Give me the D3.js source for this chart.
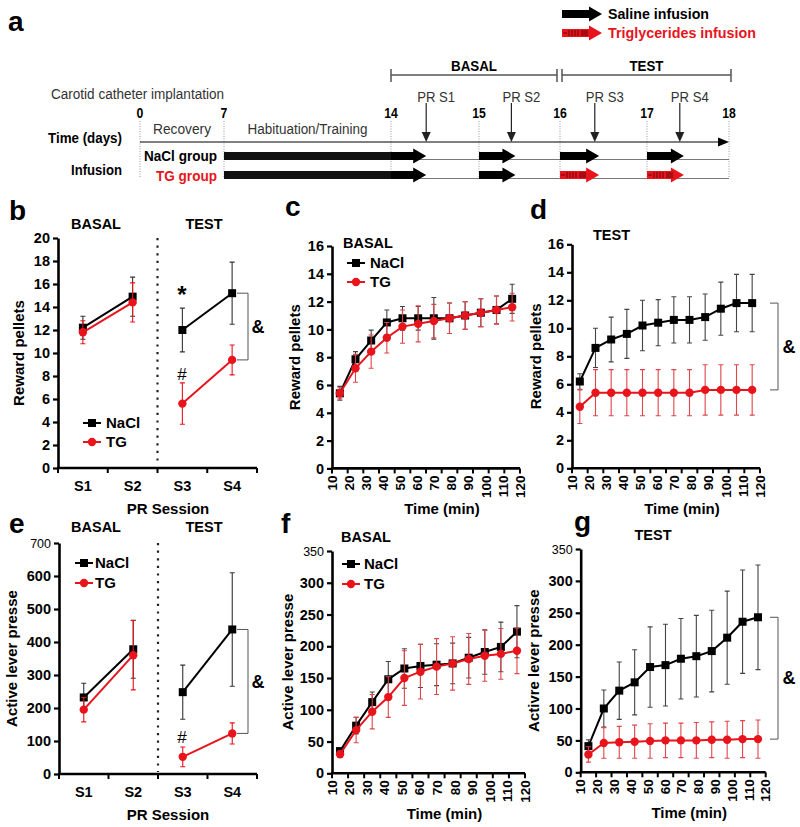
<!DOCTYPE html>
<html>
<head>
<meta charset="utf-8">
<title>Triglyceride infusion and PR sessions</title>
<style>
body { margin: 0; background: #fff; }
svg { display: block; font-family: "Liberation Sans", Arial, sans-serif; }
</style>
</head>
<body>
<svg width="800" height="827"></svg>
<script src="https://d3js.org/d3.v7.min.js"></script>
<script>
// ---- data ----
var sessions = ["S1", "S2", "S3", "S4"];
var pelletsNaCl = [12.2, 14.9, 12.0, 15.2];
var pelletsNaClSem = [1.0, 1.7, 1.9, 2.7];
var pelletsTG = [11.8, 14.4, 5.6, 9.4];
var pelletsTGSem = [1.0, 1.7, 1.8, 1.3];
var pressNaCl = [232, 378, 248, 438];
var pressNaClSem = [43, 88, 82, 172];
var pressTG = [195, 360, 52, 123];
var pressTGSem = [37, 105, 30, 32];

var minutes = [10, 20, 30, 40, 50, 60, 70, 80, 90, 100, 110, 120];
var basalPelletsNaCl = [5.4, 7.85, 9.2, 10.5, 10.8, 10.8, 10.8, 10.8, 11.0, 11.2, 11.4, 12.2];
var basalPelletsNaClSem = [0.5, 0.55, 0.75, 0.9, 0.85, 0.85, 1.5, 1.1, 1.0, 1.0, 1.0, 1.05];
var basalPelletsTG = [5.4, 7.2, 8.4, 9.4, 10.2, 10.4, 10.6, 10.8, 11.0, 11.2, 11.4, 11.6];
var basalPelletsTGSem = [0.4, 1.0, 1.2, 1.1, 1.2, 1.3, 1.2, 1.1, 1.0, 1.0, 1.0, 1.0];
var testPelletsNaCl = [6.2, 8.6, 9.2, 9.6, 10.2, 10.4, 10.6, 10.6, 10.8, 11.4, 11.8, 11.8];
var testPelletsNaClSem = [0.55, 1.4, 1.6, 1.75, 1.8, 1.65, 1.65, 1.65, 1.65, 1.9, 2.05, 2.05];
var testPelletsTG = [4.4, 5.4, 5.4, 5.4, 5.4, 5.4, 5.4, 5.4, 5.6, 5.6, 5.6, 5.6];
var testPelletsTGSem = [1.2, 1.65, 1.65, 1.65, 1.65, 1.65, 1.65, 1.65, 1.8, 1.8, 1.8, 1.8];
var basalPressNaCl = [35, 75, 112, 148, 165, 169, 171, 173, 182, 191, 199, 223];
var basalPressNaClSem = [4, 13, 16, 28, 31, 34, 33, 32, 32, 35, 39, 41];
var basalPressTG = [30, 68, 97, 120, 150, 160, 168, 173, 180, 185, 188, 193];
var basalPressTGSem = [5, 20, 27, 32, 43, 43, 44, 42, 40, 40, 40, 36];
var testPressNaCl = [41, 100, 128, 141, 165, 168, 178, 182, 190, 211, 236, 243];
var testPressNaClSem = [10, 29, 45, 51, 63, 64, 63, 64, 64, 73, 81, 82];
var testPressTG = [28, 46, 47, 48, 49, 50, 50, 50, 51, 51, 52, 52];
var testPressTGSem = [12, 24, 25, 26, 27, 27, 27, 28, 28, 29, 29, 30];

// protocol timeline
var timelineDays = [0, 7, 14, 15, 16, 17, 18];
var periods = ["Recovery", "Habituation/Training"];
var periodStart = [0, 7];
var periodEnd = [7, 14];
var prLabels = ["PR S1", "PR S2", "PR S3", "PR S4"];
var prDays = [14.4, 15.4, 16.4, 17.4];
var infusionStart = [14, 15, 16, 17];
var infusionEnd = [14.4, 15.45, 16.45, 17.45];
var naclInfusion = ["saline", "saline", "saline", "saline"];
var tgInfusion = ["saline", "saline", "tg", "tg"];

var RED = "#e8141c";
var svg = d3.select("svg");
svg.append("rect").attr("width", 800).attr("height", 827).attr("fill", "#fff");

function txt(g, x, y, s, size, weight, anchor, color) {
  return g.append("text").attr("x", x).attr("y", y).attr("dy", "0.35em")
    .attr("font-size", size).attr("font-weight", weight || "normal")
    .attr("text-anchor", anchor || "start").attr("fill", color || "#000").text(s);
}
// the protocol drawing uses a condensed face: squeeze text to its width
function fit(sel, w) {
  return sel.attr("textLength", w).attr("lengthAdjust", "spacingAndGlyphs");
}

// ---- panel a ----
var ga = svg.append("g");
var dayX = d3.scaleLinear().domain(timelineDays).range([140, 224, 391, 479, 560, 647, 729]);

function arrow(g, xa, xb, yc, fill, hatch) {
  var hl = 13, bh = 4, hh = 7.5;
  g.append("path")
    .attr("d", "M" + xa + "," + (yc - bh) + "H" + (xb - hl) + "V" + (yc - hh) + "L" + xb + "," + yc +
      "L" + (xb - hl) + "," + (yc + hh) + "V" + (yc + bh) + "H" + xa + "Z")
    .attr("fill", fill);
  if (hatch) {
    [7, 10, 13, 16].forEach(function (o) {
      g.append("line").attr("x1", xa + o).attr("x2", xa + o).attr("y1", yc - 3).attr("y2", yc + 3)
        .attr("stroke", "#4a0000").attr("stroke-width", 0.8);
    });
    [-2, 0, 2].forEach(function (o) {
      g.append("line").attr("x1", xa + 19).attr("x2", xa + 26).attr("y1", yc + o).attr("y2", yc + o)
        .attr("stroke", "#4a0000").attr("stroke-width", 0.8);
    });
    g.append("line").attr("x1", xa + 1).attr("x2", xa + 5).attr("y1", yc).attr("y2", yc)
      .attr("stroke", "#4a0000").attr("stroke-width", 0.8);
  }
}

txt(ga, 8, 21, "a", 28, "bold");
arrow(ga, 562, 602, 14, "#000", false);
fit(txt(ga, 608, 14, "Saline infusion", 15, "bold"), 101);
arrow(ga, 562, 602, 33, RED, true);
fit(txt(ga, 608, 33, "Triglycerides infusion", 15, "bold", "start", RED), 148);

// brackets
function bracket(g, xa, xb, label, w) {
  g.append("line").attr("x1", xa).attr("x2", xb).attr("y1", 75).attr("y2", 75).attr("stroke", "#555").attr("stroke-width", 1.5);
  [xa, xb].forEach(function (x) {
    g.append("line").attr("x1", x).attr("x2", x).attr("y1", 69).attr("y2", 82).attr("stroke", "#555").attr("stroke-width", 1.5);
  });
  fit(txt(g, (xa + xb) / 2, 66, label, 15, "bold", "middle"), w);
}
bracket(ga, dayX(14), dayX(16) - 3, "BASAL", 46);
bracket(ga, dayX(16) + 2, dayX(18) + 2, "TEST", 34);

fit(txt(ga, 51, 94, "Carotid catheter implantation", 15.5, "normal", "start", "#333"), 173);

// dotted day lines
timelineDays.forEach(function (d) {
  ga.append("line").attr("x1", dayX(d)).attr("x2", dayX(d)).attr("y1", 121).attr("y2", 178)
    .attr("stroke", "#999").attr("stroke-width", 1).attr("stroke-dasharray", "1,1.5");
  fit(txt(ga, dayX(d), 113, d, 15, "bold", "middle"), String(d).length * 6.8);
});

var periodWidths = [58, 120];
periods.forEach(function (p, i) {
  fit(txt(ga, (dayX(periodStart[i]) + dayX(periodEnd[i])) / 2, 129, p, 15.5, "normal", "middle", "#333"), periodWidths[i]);
});

fit(txt(ga, 122, 138, "Time (days)", 15.5, "bold", "end"), 74);
fit(txt(ga, 122, 170, "Infusion", 15.5, "bold", "end"), 51);
fit(txt(ga, 217, 156, "NaCl group", 15.5, "bold", "end"), 73);
fit(txt(ga, 217, 176, "TG group", 15.5, "bold", "end", RED), 61);

// time axis
ga.append("line").attr("x1", dayX(0)).attr("x2", dayX(18) - 4).attr("y1", 142).attr("y2", 142).attr("stroke", "#000").attr("stroke-width", 1);
ga.append("path").attr("d", "M" + dayX(18) + ",142L" + (dayX(18) - 11) + ",137.5V146.5Z").attr("fill", "#000");

// PR sessions
prLabels.forEach(function (p, i) {
  var x = dayX(prDays[i]);
  ga.append("line").attr("x1", x).attr("x2", x).attr("y1", 103).attr("y2", 134).attr("stroke", "#222").attr("stroke-width", 1.2);
  ga.append("path").attr("d", "M" + x + ",142L" + (x - 4.5) + ",132H" + (x + 4.5) + "Z").attr("fill", "#222");
  fit(txt(ga, x + 10, 97, p, 15.5, "normal", "middle", "#333"), 38);
});

// infusion rows
function infusionRow(yc, kinds) {
  ga.append("line").attr("x1", dayX(7)).attr("x2", dayX(18)).attr("y1", yc + 3.5).attr("y2", yc + 3.5)
    .attr("stroke", "#777").attr("stroke-width", 1);
  ga.append("rect").attr("x", dayX(7)).attr("y", yc - 4).attr("width", dayX(14) - dayX(7)).attr("height", 8).attr("fill", "#111");
  kinds.forEach(function (k, i) {
    arrow(ga, dayX(infusionStart[i]), dayX(infusionEnd[i]), yc, k === "tg" ? RED : "#000", k === "tg");
  });
}
infusionRow(156, naclInfusion);
infusionRow(175, tgInfusion);

// ---- shared helpers for plots ----
function yAxis(g, y, x0, ticks, lightTop) {
  var ax = g.append("g").attr("transform", "translate(" + x0 + ",0)")
    .call(d3.axisLeft(y).tickValues(ticks).tickSize(5).tickSizeOuter(0).tickPadding(3));
  ax.select(".domain").attr("stroke-width", 2.6);
  ax.selectAll(".tick line").attr("stroke-width", 2.2);
  ax.selectAll(".tick text").attr("font-size", 14.5).attr("font-weight", "bold")
    .attr("font-family", "'Liberation Sans', Arial, sans-serif").attr("fill", "#000");
  if (lightTop) {
    ax.selectAll(".tick text").filter(function (d) { return d === ticks[ticks.length - 1]; })
      .attr("font-weight", "normal").attr("font-size", 12.5);
  }
}

function yLabel(g, x, cy, s) {
  g.append("text").attr("transform", "translate(" + x + "," + cy + ") rotate(-90)")
    .attr("text-anchor", "middle").attr("font-size", 15).attr("font-weight", "bold").text(s);
}

function series(g, xs, y, vals, sems, color, errColor, square, segments) {
  var lg = g.append("g");
  segments.forEach(function (seg) {
    var pts = seg.map(function (i) { return [xs[i], y(vals[i])]; });
    lg.append("path").attr("d", d3.line()(pts)).attr("fill", "none").attr("stroke", color).attr("stroke-width", 2);
  });
  vals.forEach(function (v, i) {
    var x = xs[i], ya = y(v + sems[i]), yb = y(v - sems[i]);
    lg.append("path").attr("d", "M" + x + "," + ya + "V" + yb + "M" + (x - 2.5) + "," + ya + "H" + (x + 2.5) + "M" + (x - 2.5) + "," + yb + "H" + (x + 2.5))
      .attr("stroke", errColor).attr("stroke-width", 1.1).attr("fill", "none");
  });
  vals.forEach(function (v, i) {
    if (square) {
      lg.append("rect").attr("x", xs[i] - 4).attr("y", y(v) - 4).attr("width", 8).attr("height", 8).attr("fill", color);
    } else {
      lg.append("circle").attr("cx", xs[i]).attr("cy", y(v)).attr("r", 4.2).attr("fill", color);
    }
  });
}

function legend(g, lx, textX, y1, y2) {
  g.append("line").attr("x1", lx).attr("x2", lx + 18).attr("y1", y1).attr("y2", y1).attr("stroke", "#000").attr("stroke-width", 2);
  g.append("rect").attr("x", lx + 5).attr("y", y1 - 4).attr("width", 8).attr("height", 8).attr("fill", "#000");
  txt(g, textX, y1, "NaCl", 15, "bold");
  g.append("line").attr("x1", lx).attr("x2", lx + 18).attr("y1", y2).attr("y2", y2).attr("stroke", RED).attr("stroke-width", 2);
  g.append("circle").attr("cx", lx + 9).attr("cy", y2).attr("r", 4.2).attr("fill", RED);
  txt(g, textX, y2, "TG", 15, "bold");
}

function sigBracket(g, xa, xb, ya, yb, labelX) {
  g.append("path").attr("d", "M" + xa + "," + ya + "H" + xb + "V" + yb + "H" + xa)
    .attr("fill", "none").attr("stroke", "#555").attr("stroke-width", 1);
  txt(g, labelX, (ya + yb) / 2, "&", 18, "bold", "middle");
}

// ---- session panels (b, e) ----
function sessionPanel(o) {
  var g = svg.append("g");
  var x = d3.scaleBand().domain(sessions).range([o.x0, o.x1]);
  var y = d3.scaleLinear().domain([0, o.max]).range([o.yBottom, o.yTop]);
  var cx = sessions.map(function (s) { return x(s) + x.bandwidth() / 2; });

  g.append("line").attr("x1", x("S3")).attr("x2", x("S3")).attr("y1", o.yTop).attr("y2", o.yBottom - 2)
    .attr("stroke", "#222").attr("stroke-width", 2.2).attr("stroke-dasharray", "2.2,5.4");
  yAxis(g, y, o.x0, d3.range(0, o.max + o.step / 2, o.step), o.lightTop);

  g.append("line").attr("x1", o.x0 - 1).attr("x2", o.x1).attr("y1", o.yBottom).attr("y2", o.yBottom).attr("stroke", "#000").attr("stroke-width", 2.6);
  sessions.map(function (s) { return x(s); }).concat([o.x1]).forEach(function (tx) {
    g.append("line").attr("x1", tx).attr("x2", tx).attr("y1", o.yBottom).attr("y2", o.yBottom + 5).attr("stroke", "#000").attr("stroke-width", 2);
  });
  sessions.forEach(function (s, i) { txt(g, cx[i], o.yBottom + 18, s, 14.5, "bold", "middle"); });
  txt(g, 168, o.yBottom + 41, "PR Session", 15, "bold", "middle");

  txt(g, 96, o.titleY, "BASAL", 14.5, "bold", "middle");
  txt(g, 204, o.titleY, "TEST", 14.5, "bold", "middle");
  yLabel(g, o.labelX, (o.yTop + o.yBottom) / 2, o.yTitle);
  txt(g, 9, o.letterY, o.letter, 28, "bold");

  var segs = [[0, 1], [2, 3]];
  series(g, cx, y, o.nacl, o.naclSem, "#000", "#333", true, segs);
  series(g, cx, y, o.tg, o.tgSem, RED, RED, false, segs);
  legend(g, o.legX, o.legTextX, o.legY1, o.legY2);
  sigBracket(g, 237, 248, y(o.nacl[3]), y(o.tg[3]), 258);
}

// ---- time-course panels (c, d, f, g) ----
function timePanel(o) {
  var g = svg.append("g");
  var xb = d3.scaleBand().domain(minutes).range([o.x0, o.x1]);
  var xl = d3.scaleLinear().domain([minutes[0], minutes[minutes.length - 1]]).range([o.x0, o.x1]);
  var y = d3.scaleLinear().domain([0, o.max]).range([o.yBottom, o.yTop]);
  var cx = minutes.map(function (m) { return xb(m) + xb.bandwidth() / 2; });

  yAxis(g, y, o.x0, d3.range(0, o.max + o.step / 2, o.step), o.lightTop);
  g.append("line").attr("x1", o.x0 - 1).attr("x2", o.x1).attr("y1", o.yBottom).attr("y2", o.yBottom).attr("stroke", "#000").attr("stroke-width", 2.6);
  minutes.map(function (m) { return xb(m); }).concat([o.x1]).forEach(function (tx) {
    g.append("line").attr("x1", tx).attr("x2", tx).attr("y1", o.yBottom).attr("y2", o.yBottom + 5).attr("stroke", "#000").attr("stroke-width", 2);
  });
  g.selectAll(".tl").data(minutes).join("text")
    .attr("transform", function (d) { return "translate(" + xl(d) + "," + (o.yBottom + 7) + ") rotate(-90)"; })
    .attr("text-anchor", "end").attr("dy", "0.35em").attr("font-size", 13.5).attr("font-weight", "bold").text(function (d) { return d; });
  txt(g, (o.x0 + o.x1) / 2 + 16, o.yBottom + 40, "Time (min)", 15, "bold", "middle");

  yLabel(g, o.labelX, (o.yTop + o.yBottom) / 2, o.yTitle);
  txt(g, o.letterX, o.letterY, o.letter, 28, "bold");
  txt(g, o.titleX, o.titleY, o.title, 14.5, "bold", o.titleAnchor);

  series(g, cx, y, o.nacl, o.naclSem, "#000", "#444", true, [d3.range(minutes.length)]);
  series(g, cx, y, o.tg, o.tgSem, RED, "#e0454a", false, [d3.range(minutes.length)]);
  if (o.legX) legend(g, o.legX, o.legTextX, o.legY1, o.legY2);
  if (o.sig) sigBracket(g, 770, 778, y(o.nacl[o.nacl.length - 1]), y(o.tg[o.tg.length - 1]), 789);
}

sessionPanel({x0: 58, x1: 257, yTop: 238, yBottom: 468, max: 20, step: 2,
  nacl: pelletsNaCl, naclSem: pelletsNaClSem, tg: pelletsTG, tgSem: pelletsTGSem,
  yTitle: "Reward pellets", labelX: 24, letter: "b", letterY: 210, titleY: 224,
  legX: 83, legTextX: 106, legY1: 423, legY2: 442});
txt(svg, 182, 295, "*", 24, "bold", "middle");
txt(svg, 182, 374, "#", 17, "normal", "middle");

sessionPanel({x0: 59, x1: 257, yTop: 543, yBottom: 774, max: 700, step: 100, lightTop: true,
  nacl: pressNaCl, naclSem: pressNaClSem, tg: pressTG, tgSem: pressTGSem,
  yTitle: "Active lever presse", labelX: 17, letter: "e", letterY: 523, titleY: 527,
  legX: 75, legTextX: 95, legY1: 563, legY2: 583});
txt(svg, 182, 737, "#", 17, "normal", "middle");

timePanel({x0: 332, x1: 520, yTop: 246, yBottom: 468.4, max: 16, step: 2,
  nacl: basalPelletsNaCl, naclSem: basalPelletsNaClSem, tg: basalPelletsTG, tgSem: basalPelletsTGSem,
  yTitle: "Reward pellets", labelX: 300, letter: "c", letterX: 285, letterY: 206,
  title: "BASAL", titleX: 343, titleY: 243, titleAnchor: "start",
  legX: 347, legTextX: 370, legY1: 263, legY2: 282});

timePanel({x0: 572, x1: 760, yTop: 244.3, yBottom: 468.3, max: 16, step: 2, sig: true,
  nacl: testPelletsNaCl, naclSem: testPelletsNaClSem, tg: testPelletsTG, tgSem: testPelletsTGSem,
  yTitle: "Reward pellets", labelX: 541, letter: "d", letterX: 530, letterY: 209,
  title: "TEST", titleX: 593, titleY: 235, titleAnchor: "start"});

timePanel({x0: 332, x1: 525, yTop: 551, yBottom: 773.3, max: 350, step: 50, lightTop: true,
  nacl: basalPressNaCl, naclSem: basalPressNaClSem, tg: basalPressTG, tgSem: basalPressTGSem,
  yTitle: "Active lever presse", labelX: 293, letter: "f", letterX: 281, letterY: 523,
  title: "BASAL", titleX: 366, titleY: 537, titleAnchor: "middle",
  legX: 342, legTextX: 364, legY1: 564, legY2: 584});

timePanel({x0: 580.7, x1: 765.7, yTop: 549, yBottom: 772.3, max: 350, step: 50, lightTop: true, sig: true,
  nacl: testPressNaCl, naclSem: testPressNaClSem, tg: testPressTG, tgSem: testPressTGSem,
  yTitle: "Activre lever presse", labelX: 539, letter: "g", letterX: 574, letterY: 521,
  title: "TEST", titleX: 653, titleY: 535, titleAnchor: "middle"});
</script>
</body>
</html>
